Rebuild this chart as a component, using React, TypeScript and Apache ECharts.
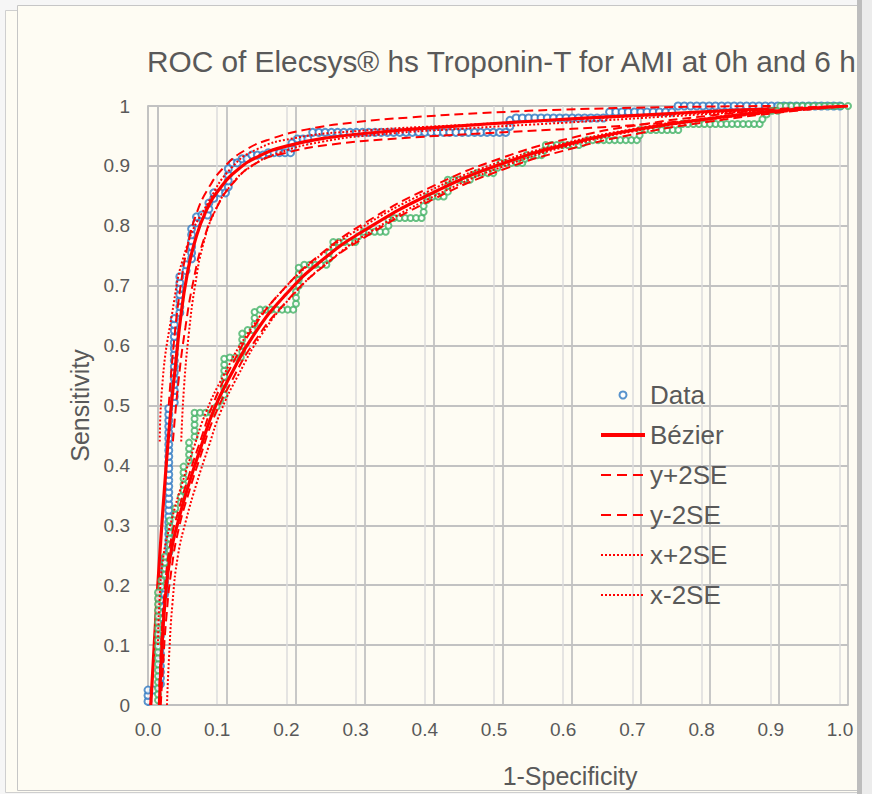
import React, { useEffect, useRef } from 'react';
import * as echarts from 'echarts';

const FONT = "'Liberation Sans', Arial, Helvetica, sans-serif";
const TEXT = '#595959';
const BLUE = '#2e78c2';
const GREEN = '#45b368';
const RED = '#ff0000';
const CREAM = '#fefcf3';

const titleText = 'ROC of Elecsys® hs Troponin-T for AMI at 0h and 6 h';
const xName = '1-Specificity';
const yName = 'Sensitivity';
const legendNames = ['Data', 'Bézier', 'y+2SE', 'y-2SE', 'x+2SE', 'x-2SE'];

// ---- Blue ROC (first chart, grid A) ----
const blueData: number[][] = [
  [0, 0.006], [0, 0.016], [0, 0.025], [0.008, 0.025],
  [0.018, 0.035], [0.018, 0.045], [0.018, 0.055], [0.018, 0.065], [0.018, 0.075], [0.018, 0.085], [0.018, 0.095], [0.018, 0.105],
  [0.018, 0.115], [0.018, 0.125], [0.018, 0.135], [0.018, 0.145], [0.018, 0.155], [0.018, 0.165], [0.018, 0.175],
  [0.024, 0.185], [0.024, 0.195], [0.024, 0.205], [0.024, 0.215], [0.024, 0.225], [0.024, 0.235], [0.024, 0.245],
  [0.03, 0.255], [0.03, 0.265], [0.03, 0.275], [0.03, 0.285], [0.03, 0.295], [0.03, 0.305], [0.03, 0.315], [0.03, 0.325],
  [0.03, 0.335], [0.03, 0.345], [0.03, 0.355], [0.03, 0.365], [0.03, 0.375], [0.03, 0.385], [0.03, 0.395], [0.03, 0.405],
  [0.03, 0.415], [0.03, 0.425], [0.03, 0.435], [0.03, 0.445], [0.03, 0.455], [0.03, 0.465], [0.03, 0.475], [0.03, 0.485], [0.03, 0.495],
  [0.038, 0.505], [0.038, 0.515], [0.038, 0.525], [0.038, 0.535], [0.038, 0.545], [0.038, 0.555], [0.038, 0.565], [0.038, 0.575],
  [0.038, 0.585], [0.038, 0.595], [0.038, 0.605], [0.038, 0.615], [0.038, 0.625], [0.038, 0.635], [0.038, 0.645],
  [0.046, 0.655], [0.046, 0.665], [0.046, 0.675], [0.046, 0.685], [0.046, 0.695], [0.046, 0.705], [0.046, 0.715],
  [0.055, 0.725], [0.055, 0.735],
  [0.063, 0.745], [0.063, 0.755], [0.063, 0.765], [0.063, 0.775], [0.063, 0.785], [0.063, 0.795],
  [0.07, 0.805], [0.07, 0.815], [0.078, 0.818], [0.086, 0.818],
  [0.088, 0.828], [0.088, 0.838], [0.095, 0.846], [0.095, 0.855], [0.104, 0.855], [0.112, 0.855],
  [0.116, 0.865], [0.116, 0.875], [0.116, 0.885], [0.116, 0.895],
  [0.122, 0.905], [0.129, 0.905], [0.136, 0.912], [0.143, 0.912],
  [0.15, 0.918], [0.158, 0.918], [0.166, 0.918],
  [0.174, 0.922], [0.182, 0.922], [0.19, 0.922], [0.198, 0.922], [0.206, 0.922],
  [0.208, 0.93], [0.208, 0.938], [0.216, 0.945], [0.224, 0.945], [0.231, 0.945],
  [0.238, 0.956], [0.247, 0.956], [0.256, 0.956], [0.265, 0.956], [0.274, 0.956], [0.283, 0.956], [0.292, 0.956], [0.301, 0.956],
  [0.31, 0.956], [0.319, 0.956], [0.328, 0.956], [0.337, 0.956], [0.346, 0.956], [0.355, 0.956], [0.364, 0.956], [0.373, 0.956],
  [0.382, 0.956], [0.391, 0.956], [0.4, 0.956], [0.409, 0.956], [0.418, 0.956], [0.427, 0.956], [0.436, 0.956], [0.445, 0.956],
  [0.454, 0.956], [0.463, 0.956], [0.472, 0.956], [0.481, 0.956], [0.49, 0.956], [0.499, 0.956], [0.508, 0.956], [0.517, 0.956],
  [0.523, 0.966], [0.523, 0.976],
  [0.532, 0.98], [0.541, 0.98], [0.55, 0.98], [0.559, 0.98], [0.568, 0.98], [0.577, 0.98], [0.586, 0.98], [0.595, 0.98],
  [0.604, 0.98], [0.613, 0.98], [0.622, 0.98], [0.631, 0.98], [0.64, 0.98], [0.649, 0.98], [0.658, 0.98],
  [0.667, 0.99], [0.676, 0.99], [0.685, 0.99], [0.694, 0.99], [0.703, 0.99], [0.712, 0.99], [0.721, 0.99], [0.73, 0.99],
  [0.739, 0.99], [0.748, 0.99], [0.757, 0.99],
  [0.766, 1], [0.775, 1], [0.784, 1], [0.793, 1], [0.802, 1], [0.811, 1], [0.82, 1], [0.829, 1], [0.838, 1], [0.847, 1],
  [0.856, 1], [0.865, 1], [0.874, 1], [0.883, 1], [0.892, 1], [0.901, 1], [0.91, 1], [0.919, 1], [0.928, 1], [0.937, 1],
  [0.946, 1], [0.955, 1], [0.964, 1], [0.973, 1], [0.982, 1], [0.991, 1], [1, 1],
];
const blueBezier: number[][] = [
  [0.004, 0], [0.01, 0.12], [0.017, 0.25], [0.025, 0.38], [0.032, 0.48], [0.04, 0.57], [0.047, 0.645], [0.056, 0.715],
  [0.068, 0.775], [0.084, 0.825], [0.105, 0.864], [0.13, 0.894], [0.16, 0.916], [0.2, 0.933], [0.26, 0.947], [0.34, 0.957],
  [0.44, 0.966], [0.56, 0.975], [0.7, 0.984], [0.85, 0.993], [1, 1],
];
const blueYPlus: number[][] = [
  [0.03, 0.5], [0.037, 0.6], [0.046, 0.69], [0.057, 0.765], [0.07, 0.82], [0.087, 0.862], [0.11, 0.898], [0.14, 0.926],
  [0.18, 0.946], [0.23, 0.961], [0.3, 0.973], [0.38, 0.981], [0.48, 0.988], [0.6, 0.994], [0.75, 0.998], [0.9, 1],
];
const blueYMinus: number[][] = [
  [0.036, 0.44], [0.044, 0.54], [0.054, 0.63], [0.066, 0.71], [0.08, 0.775], [0.1, 0.832], [0.125, 0.874], [0.157, 0.905],
  [0.2, 0.922], [0.26, 0.935], [0.364, 0.946], [0.527, 0.957], [0.7, 0.968], [0.85, 0.983], [1, 1],
];
const blueXPlus: number[][] = [
  [0.048, 0.44], [0.052, 0.53], [0.059, 0.62], [0.068, 0.7], [0.08, 0.77], [0.097, 0.825], [0.12, 0.868], [0.15, 0.9],
  [0.19, 0.922], [0.25, 0.94], [0.33, 0.952], [0.45, 0.962], [0.6, 0.972], [0.8, 0.986], [1, 1],
];
const blueXMinus: number[][] = [
  [0.017, 0.44], [0.02, 0.525], [0.034, 0.648], [0.056, 0.765], [0.089, 0.843], [0.12, 0.896], [0.156, 0.927],
  [0.21, 0.946], [0.3, 0.958], [0.45, 0.968], [0.65, 0.98], [0.85, 0.991], [1, 1],
];

// ---- Green ROC (second chart, grid B) ----
const greenData: number[][] = [
  [0, 0.008], [0, 0.018], [0, 0.028], [0, 0.038], [0, 0.048], [0, 0.058], [0, 0.068], [0, 0.078], [0, 0.088], [0, 0.098],
  [0, 0.108], [0, 0.118], [0, 0.128], [0, 0.138], [0, 0.148], [0, 0.158], [0, 0.168], [0, 0.178], [0, 0.188],
  [0.005, 0.198], [0.005, 0.208],
  [0.01, 0.218], [0.01, 0.228], [0.01, 0.238], [0.01, 0.248],
  [0.017, 0.258], [0.017, 0.268], [0.017, 0.278], [0.017, 0.288], [0.017, 0.298], [0.017, 0.308],
  [0.025, 0.318], [0.025, 0.328], [0.033, 0.338], [0.033, 0.348],
  [0.037, 0.358], [0.037, 0.368], [0.037, 0.378], [0.037, 0.388], [0.037, 0.398],
  [0.045, 0.408], [0.045, 0.418], [0.045, 0.428], [0.045, 0.438],
  [0.053, 0.448], [0.053, 0.458], [0.053, 0.468], [0.053, 0.478], [0.053, 0.488],
  [0.061, 0.488], [0.069, 0.488], [0.077, 0.488], [0.085, 0.498], [0.09, 0.508],
  [0.096, 0.518], [0.096, 0.528], [0.096, 0.538], [0.096, 0.548], [0.096, 0.558], [0.096, 0.568], [0.096, 0.578],
  [0.104, 0.58], [0.112, 0.58], [0.12, 0.58],
  [0.122, 0.59], [0.122, 0.6], [0.122, 0.61], [0.122, 0.62], [0.13, 0.626], [0.137, 0.626],
  [0.14, 0.636], [0.14, 0.646], [0.14, 0.656],
  [0.148, 0.66], [0.156, 0.66], [0.164, 0.66], [0.172, 0.66], [0.18, 0.66], [0.188, 0.66], [0.196, 0.66],
  [0.2, 0.67], [0.2, 0.68], [0.2, 0.69], [0.204, 0.7], [0.204, 0.71], [0.204, 0.72], [0.204, 0.73],
  [0.212, 0.735], [0.22, 0.735], [0.228, 0.735], [0.236, 0.735], [0.244, 0.735],
  [0.248, 0.745], [0.248, 0.755], [0.254, 0.765], [0.254, 0.773],
  [0.262, 0.773], [0.27, 0.773], [0.278, 0.773], [0.286, 0.773], [0.29, 0.782],
  [0.298, 0.79], [0.306, 0.79], [0.314, 0.79], [0.322, 0.79], [0.33, 0.79], [0.334, 0.8], [0.334, 0.81],
  [0.342, 0.813], [0.35, 0.813], [0.358, 0.813], [0.366, 0.813], [0.374, 0.813], [0.382, 0.813],
  [0.385, 0.823], [0.385, 0.833], [0.39, 0.843], [0.39, 0.849],
  [0.398, 0.849], [0.406, 0.849], [0.414, 0.849], [0.42, 0.857], [0.42, 0.867], [0.42, 0.877],
  [0.428, 0.877], [0.436, 0.877], [0.444, 0.877], [0.452, 0.877], [0.456, 0.885],
  [0.462, 0.888], [0.47, 0.888], [0.478, 0.888], [0.486, 0.888], [0.492, 0.897], [0.496, 0.905],
  [0.504, 0.905], [0.512, 0.905], [0.52, 0.905], [0.528, 0.905], [0.532, 0.912], [0.534, 0.918],
  [0.542, 0.918], [0.55, 0.918], [0.556, 0.918], [0.56, 0.926], [0.562, 0.935],
  [0.57, 0.935], [0.578, 0.935], [0.586, 0.935], [0.594, 0.935], [0.602, 0.935], [0.61, 0.935], [0.616, 0.938],
  [0.622, 0.943], [0.63, 0.943], [0.638, 0.943], [0.646, 0.943], [0.654, 0.943], [0.662, 0.943], [0.67, 0.943],
  [0.678, 0.943], [0.686, 0.943], [0.694, 0.943], [0.698, 0.951], [0.698, 0.96],
  [0.706, 0.96], [0.714, 0.96], [0.722, 0.96], [0.73, 0.96], [0.738, 0.96], [0.746, 0.96], [0.754, 0.96], [0.76, 0.97],
  [0.768, 0.97], [0.776, 0.97], [0.784, 0.97], [0.792, 0.97], [0.8, 0.97], [0.808, 0.97], [0.816, 0.97], [0.824, 0.97],
  [0.832, 0.97], [0.84, 0.97], [0.848, 0.97], [0.856, 0.97], [0.864, 0.97], [0.872, 0.97],
  [0.876, 0.978], [0.882, 0.986], [0.89, 0.992], [0.898, 0.992],
  [0.902, 1], [0.91, 1], [0.918, 1], [0.926, 1], [0.934, 1], [0.942, 1], [0.95, 1], [0.958, 1], [0.966, 1],
  [0.974, 1], [0.982, 1], [0.99, 1], [1, 1],
];
const greenBezier: number[][] = [
  [0.002, 0], [0.005, 0.08], [0.01, 0.17], [0.018, 0.25], [0.03, 0.31], [0.045, 0.37], [0.062, 0.43], [0.08, 0.49],
  [0.105, 0.55], [0.14, 0.62], [0.185, 0.685], [0.235, 0.74], [0.3, 0.793], [0.4, 0.856], [0.5, 0.904], [0.6, 0.938],
  [0.7, 0.962], [0.8, 0.979], [0.9, 0.992], [1, 1],
];
const greenYPlus: number[][] = [
  [0.002, 0.03], [0.005, 0.11], [0.01, 0.195], [0.018, 0.27], [0.03, 0.326], [0.045, 0.384], [0.062, 0.443], [0.08, 0.503],
  [0.105, 0.563], [0.14, 0.633], [0.185, 0.698], [0.235, 0.752], [0.3, 0.805], [0.4, 0.867], [0.5, 0.914], [0.6, 0.947],
  [0.7, 0.969], [0.8, 0.984], [0.9, 0.995], [1, 1],
];
const greenYMinus: number[][] = [
  [0.004, 0], [0.007, 0.06], [0.012, 0.145], [0.02, 0.23], [0.03, 0.294], [0.045, 0.356], [0.062, 0.417], [0.08, 0.477],
  [0.105, 0.537], [0.14, 0.607], [0.185, 0.672], [0.235, 0.728], [0.3, 0.781], [0.4, 0.845], [0.5, 0.894], [0.6, 0.929],
  [0.7, 0.955], [0.8, 0.974], [0.9, 0.989], [1, 1],
];
const greenXPlus: number[][] = [
  [0.013, 0], [0.016, 0.08], [0.021, 0.17], [0.029, 0.25], [0.041, 0.31], [0.056, 0.37], [0.073, 0.43], [0.091, 0.49],
  [0.116, 0.55], [0.151, 0.62], [0.196, 0.685], [0.247, 0.74], [0.312, 0.793], [0.412, 0.856], [0.512, 0.904], [0.611, 0.938],
  [0.71, 0.962], [0.808, 0.979], [0.905, 0.992], [1, 1],
];
const greenXMinus: number[][] = [
  [0, 0.1], [0.002, 0.17], [0.008, 0.25], [0.02, 0.31], [0.035, 0.37], [0.052, 0.43], [0.07, 0.49], [0.095, 0.55],
  [0.13, 0.62], [0.175, 0.685], [0.224, 0.74], [0.289, 0.793], [0.389, 0.856], [0.489, 0.904], [0.59, 0.938], [0.691, 0.962],
  [0.792, 0.979], [0.895, 0.992], [1, 1],
];

const fmtX = (v: number) => v.toFixed(1);
const fmtY = (v: number) => (v === 0 ? '0' : v === 1 ? '1' : v.toFixed(1));

const SOLID_W = 3.2;
const THIN_W = 2;
const DASH = [9, 5];
const DOT = [2, 2];

function redLine(name: string, data: number[][], idx: number, kind: 'solid' | 'dashed' | 'dotted', z: number) {
  return {
    name,
    type: 'line',
    xAxisIndex: idx,
    yAxisIndex: idx,
    data,
    smooth: 0.5,
    symbol: 'none',
    z,
    lineStyle: {
      color: RED,
      width: kind === 'solid' ? SOLID_W : THIN_W,
      type: kind === 'solid' ? 'solid' : kind === 'dashed' ? DASH : DOT,
    },
    itemStyle: { color: 'rgba(0,0,0,0)', borderColor: 'rgba(0,0,0,0)', borderWidth: 0 },
  };
}

export default function App() {
  const ref = useRef<HTMLDivElement>(null);
  useEffect(() => {
    if (!ref.current) return;
    const chart = echarts.init(ref.current, undefined, { renderer: 'svg' });
    const axisCommon = { type: 'value', min: 0, max: 1, interval: 0.1, axisTick: { show: false } };
    const legendStyles: Record<string, any> = {
      'Bézier': { width: 4, type: 'solid' },
      'y+2SE': { width: THIN_W, type: [10, 6] },
      'y-2SE': { width: THIN_W, type: [10, 6] },
      'x+2SE': { width: THIN_W, type: DOT },
      'x-2SE': { width: THIN_W, type: DOT },
    };
    const option: any = {
      animation: false,
      backgroundColor: 'transparent',
      title: {
        text: titleText,
        left: 142,
        top: 41,
        textStyle: { fontSize: 29.8, fontWeight: 'normal', color: TEXT, fontFamily: FONT },
      },
      legend: {
        orient: 'vertical',
        left: 599,
        top: 382,
        padding: 0,
        itemWidth: 44,
        itemHeight: 7,
        itemGap: 14,
        selectedMode: false,
        data: legendNames.map((n) => (legendStyles[n] ? { name: n, lineStyle: legendStyles[n] } : { name: n })),
        textStyle: { fontSize: 26, color: TEXT, fontFamily: FONT },
      },
      grid: [
        { left: 148, top: 106, width: 692, height: 599 },
        { left: 158, top: 106, width: 690, height: 599 },
      ],
      xAxis: [
        {
          ...axisCommon,
          gridIndex: 0,
          axisLabel: { formatter: fmtX, fontSize: 19, color: TEXT, fontFamily: FONT, margin: 15 },
          axisLine: { show: true, lineStyle: { color: '#bfbfbf', width: 1.5 } },
          splitLine: { show: true, lineStyle: { color: '#dcdcdc', width: 1.5 } },
        },
        {
          ...axisCommon,
          gridIndex: 1,
          axisLabel: { show: false },
          axisLine: { show: true, lineStyle: { color: '#bfbfbf', width: 1.8 } },
          splitLine: { show: true, lineStyle: { color: '#c2c2c2', width: 1.8 } },
        },
      ],
      yAxis: [
        {
          ...axisCommon,
          gridIndex: 0,
          name: yName,
          nameLocation: 'middle',
          nameGap: 52,
          nameTextStyle: { fontSize: 25, color: TEXT, fontFamily: FONT },
          axisLabel: { formatter: fmtY, fontSize: 19, color: TEXT, fontFamily: FONT, margin: 18 },
          axisLine: { show: true, lineStyle: { color: '#bfbfbf', width: 1.8 } },
          splitLine: { show: true, lineStyle: { color: '#c2c2c2', width: 1.8 } },
        },
        {
          ...axisCommon,
          gridIndex: 1,
          axisLabel: { show: false },
          axisLine: { show: true, lineStyle: { color: '#c2c2c2', width: 1.8 } },
          splitLine: { show: true, lineStyle: { color: '#c2c2c2', width: 1.8 } },
        },
      ],
      graphic: [
        { type: 'rect', z: -100, shape: { x: 0, y: 0, width: 872, height: 794 }, style: { fill: '#f6f6f6' } },
        { type: 'rect', z: -99, shape: { x: 5.5, y: 10.5, width: 860, height: 782 }, style: { fill: CREAM, stroke: '#cfcfcf', lineWidth: 1 } },
        { type: 'rect', z: -98, shape: { x: 17.5, y: 5.5, width: 841, height: 785 }, style: { fill: CREAM, stroke: '#c6c6c6', lineWidth: 1 } },
        { type: 'rect', z: 100, shape: { x: 857, y: 0, width: 5, height: 794 }, style: { fill: '#bdbdbd' } },
        { type: 'rect', z: 100, shape: { x: 862, y: 0, width: 10, height: 794 }, style: { fill: '#ececec' } },
        {
          type: 'text',
          x: 570,
          y: 776,
          z: 10,
          style: {
            text: xName,
            fontSize: 25,
            fontFamily: FONT,
            fill: TEXT,
            align: 'center',
            verticalAlign: 'middle',
            textAlign: 'center',
            textVerticalAlign: 'middle',
          },
        },
      ],
      series: [
        {
          name: 'Data',
          type: 'scatter',
          xAxisIndex: 0,
          yAxisIndex: 0,
          data: blueData,
          symbol: 'emptyCircle',
          symbolSize: 7,
          z: 2,
          itemStyle: { color: BLUE, borderColor: BLUE, borderWidth: 1.5 },
        },
        redLine('Bézier', blueBezier, 0, 'solid', 3),
        redLine('y+2SE', blueYPlus, 0, 'dashed', 3),
        redLine('y-2SE', blueYMinus, 0, 'dashed', 3),
        redLine('x+2SE', blueXPlus, 0, 'dotted', 3),
        redLine('x-2SE', blueXMinus, 0, 'dotted', 3),
        {
          name: 'Data',
          type: 'scatter',
          xAxisIndex: 1,
          yAxisIndex: 1,
          data: greenData,
          symbol: 'emptyCircle',
          symbolSize: 6,
          z: 4,
          itemStyle: { color: GREEN, borderColor: GREEN, borderWidth: 1.4 },
        },
        redLine('Bézier', greenBezier, 1, 'solid', 5),
        redLine('y+2SE', greenYPlus, 1, 'dashed', 5),
        redLine('y-2SE', greenYMinus, 1, 'dashed', 5),
        redLine('x+2SE', greenXPlus, 1, 'dotted', 5),
        redLine('x-2SE', greenXMinus, 1, 'dotted', 5),
      ],
    };
    chart.setOption(option);
    return () => chart.dispose();
  }, []);
  return (
    <div
      ref={ref}
      style={{ position: 'absolute', left: 0, top: 0, width: 872, height: 794, background: CREAM }}
    />
  );
}
